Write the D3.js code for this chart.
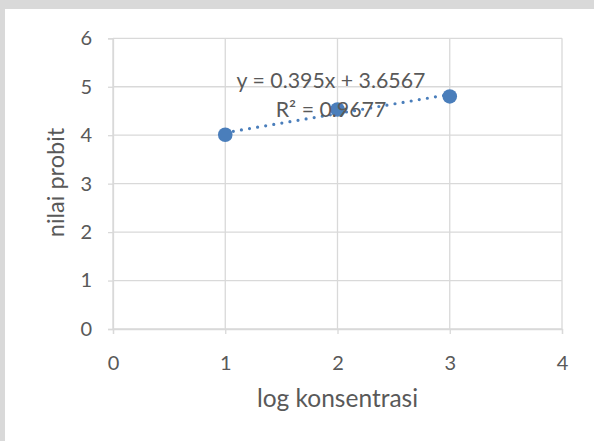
<!DOCTYPE html>
<html><head><meta charset="utf-8">
<script src="https://cdn.jsdelivr.net/npm/d3@7/dist/d3.min.js"></script>
<style>body{margin:0;background:#fff;}svg{display:block;}</style>
</head><body>
<script>
const xValues = [1, 2, 3];
const yValues = [4.01, 4.53, 4.80];
const xTicks = [0, 1, 2, 3, 4];
const yTicks = [0, 1, 2, 3, 4, 5, 6];
const equationText = "y = 0.395x + 3.6567";
const r2Text = "R² = 0.9677";
const trendSlope = 0.395, trendIntercept = 3.6567;
const xTitle = "log konsentrasi";
const yTitle = "nilai probit";

const W = 594, H = 441;
const svg = d3.select("body").append("svg").attr("width", W).attr("height", H);
svg.append("rect").attr("width", W).attr("height", H).attr("fill", "#d9d9d9");
svg.append("rect").attr("x", 5).attr("y", 9).attr("width", W - 5).attr("height", H - 9).attr("fill", "#fff");

const x = d3.scaleLinear().domain([0, 4]).range([113, 562]);
const y = d3.scaleLinear().domain([0, 6]).range([329, 38.3]);
const font = "Lato, 'Open Sans', sans-serif";
const textColor = "#595959";
const gridColor = "#d9d9d9";

// gridlines
svg.append("g").selectAll("line").data(yTicks).join("line")
  .attr("x1", x(0)).attr("x2", x(4)).attr("y1", d => y(d)).attr("y2", d => y(d))
  .attr("stroke", gridColor).attr("stroke-width", 1.3);
svg.append("g").selectAll("line").data(xTicks).join("line")
  .attr("y1", y(0)).attr("y2", y(6)).attr("x1", d => x(d)).attr("x2", d => x(d))
  .attr("stroke", gridColor).attr("stroke-width", 1.3);

// axes
const xAxis = svg.append("g").attr("transform", `translate(0,${y(0)})`)
  .call(d3.axisBottom(x).tickValues(xTicks).tickSize(5).tickPadding(22).tickFormat(d3.format("d")));
const yAxis = svg.append("g").attr("transform", `translate(${x(0)},0)`)
  .call(d3.axisLeft(y).tickValues(yTicks).tickSize(5).tickPadding(16).tickFormat(d3.format("d")));
[xAxis, yAxis].forEach(a => {
  a.select(".domain").attr("stroke", gridColor).attr("stroke-width", 1.3);
  a.selectAll(".tick line").attr("stroke", gridColor).attr("stroke-width", 1.3);
  a.selectAll(".tick text").attr("fill", textColor).style("font-family", font).style("font-size", "20px");
});

// trendline
svg.append("line")
  .attr("x1", x(1)).attr("y1", y(trendSlope * 1 + trendIntercept))
  .attr("x2", x(3)).attr("y2", y(trendSlope * 3 + trendIntercept))
  .attr("stroke", "#4a7ebb").attr("stroke-width", 3.2).attr("stroke-linecap", "round")
  .attr("stroke-dasharray", "0 8.2");

// points
svg.append("g").selectAll("circle").data(xValues.map((v, i) => [v, yValues[i]])).join("circle")
  .attr("cx", d => x(d[0])).attr("cy", d => y(d[1])).attr("r", 7.3)
  .attr("fill", "#4a7ebb");

// equation labels
svg.append("text").attr("x", 331).attr("y", 87.5).attr("text-anchor", "middle")
  .attr("fill", textColor).style("font-family", font).style("font-size", "21.3px").text(equationText);
svg.append("text").attr("x", 331).attr("y", 116.5).attr("text-anchor", "middle")
  .attr("fill", textColor).style("font-family", font).style("font-size", "21.3px").text(r2Text);

// titles
svg.append("text").attr("x", x(2)).attr("y", 407).attr("text-anchor", "middle")
  .attr("fill", textColor).style("font-family", font).style("font-size", "24.5px").text(xTitle);
svg.append("text").attr("transform", `translate(64,182.5) rotate(-90)`)
  .attr("text-anchor", "middle")
  .attr("fill", textColor).style("font-family", font).style("font-size", "23.5px").text(yTitle);
</script>
</body></html>
